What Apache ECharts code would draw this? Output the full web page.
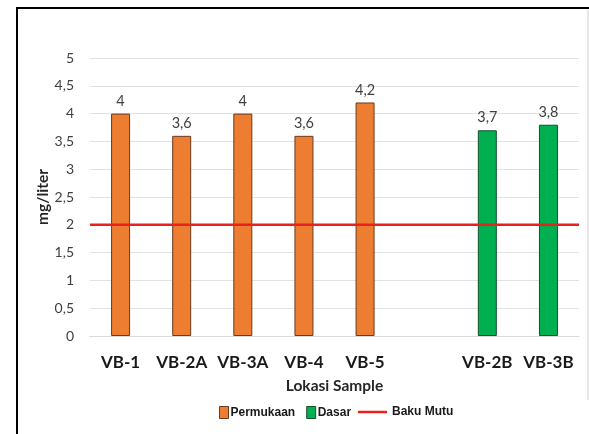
<!DOCTYPE html>
<html>
<head>
<meta charset="utf-8">
<script src="https://cdn.jsdelivr.net/npm/echarts@6/dist/echarts.min.js"></script>
<style>
  html, body { margin: 0; padding: 0; background: #fff; }
  #chart { width: 589px; height: 434px; }
</style>
</head>
<body>
<div id="chart"></div>
<script>
// Sampling locations (blank slot separates surface and bottom samples)
const categories = ['VB-1', 'VB-2A', 'VB-3A', 'VB-4', 'VB-5', '', 'VB-2B', 'VB-3B'];
// Surface samples (mg/liter)
const permukaan = [4, 3.6, 4, 3.6, 4.2, null, null, null];
// Bottom samples (mg/liter)
const dasar = [null, null, null, null, null, null, 3.7, 3.8];
// Quality standard threshold
const bakuMutu = [2, 2];
const yTicks = { min: 0, max: 5, interval: 0.5 };

const comma = v => String(v).replace('.', ',');
const labelFont = 'Lato, "Open Sans", sans-serif';
const legendFont = '"Liberation Sans Narrow", "Liberation Sans", sans-serif';

const chart = echarts.init(document.getElementById('chart'), null, { renderer: 'canvas' });

chart.setOption({
  animation: false,
  backgroundColor: '#ffffff',
  graphic: [
    { type: 'rect', shape: { x: 17, y: 8, width: 700, height: 600 },
      style: { fill: 'none', stroke: '#000', lineWidth: 2 }, z: 100 },
    { type: 'line', shape: { x1: 588, y1: 10, x2: 588, y2: 400 },
      style: { stroke: '#d0d0d0', lineWidth: 1 }, z: 100 }
  ],
  grid: { left: 90, right: 10, top: 58, bottom: 98 },
  legend: [
    {
      data: [
        { name: 'Permukaan', itemStyle: { borderColor: '#6b3a1c', borderWidth: 1 } },
        { name: 'Dasar', itemStyle: { borderColor: '#14502c', borderWidth: 1 } }
      ],
      left: 219, top: 406, padding: 0,
      icon: 'rect',
      itemWidth: 9, itemHeight: 12, itemGap: 11,
      textStyle: { fontFamily: legendFont, fontWeight: 'bold', fontSize: 12, color: '#1a1a1a', padding: [0, 0, 0, -3] }
    },
    {
      data: [{ name: 'Baku Mutu', icon: 'rect' }],
      left: 358, top: 406, padding: 0,
      itemWidth: 29, itemHeight: 2.5,
      textStyle: { fontFamily: legendFont, fontWeight: 'bold', fontSize: 12, color: '#1a1a1a' }
    }
  ],
  xAxis: [
    {
      type: 'category',
      data: categories,
      name: 'Lokasi Sample',
      nameLocation: 'middle',
      nameGap: 42,
      nameMoveOverlap: false,
      nameTextStyle: { fontFamily: labelFont, fontWeight: 'bold', fontSize: 15.5, color: '#262626' },
      axisLine: { lineStyle: { color: '#d9d9d9' } },
      axisTick: { show: false },
      axisLabel: { interval: 0, fontFamily: labelFont, fontWeight: 'bold', fontSize: 17, color: '#1a1a1a', margin: 18 }
    },
    {
      type: 'category',
      data: ['', ''],
      boundaryGap: false,
      show: false
    }
  ],
  yAxis: {
    type: 'value',
    min: yTicks.min, max: yTicks.max, interval: yTicks.interval,
    name: 'mg/liter',
    nameLocation: 'middle',
    nameGap: 39,
    nameMoveOverlap: false,
    nameTextStyle: { fontFamily: labelFont, fontWeight: 'bold', fontSize: 15.5, color: '#262626' },
    axisLine: { show: false },
    axisTick: { show: false },
    splitLine: { lineStyle: { color: '#e2e2e2' } },
    axisLabel: { fontFamily: labelFont, fontSize: 14, color: '#404040', margin: 16, formatter: comma }
  },
  series: [
    {
      name: 'Permukaan', type: 'bar', stack: 'loc', barWidth: 19,
      data: permukaan,
      itemStyle: { color: '#ED7D31', borderColor: '#6b3a1c', borderWidth: 1 },
      label: { show: true, position: 'top', distance: 5, fontFamily: labelFont, fontSize: 14.5, color: '#404040',
               formatter: p => comma(p.value) }
    },
    {
      name: 'Dasar', type: 'bar', stack: 'loc', barWidth: 19,
      data: dasar,
      itemStyle: { color: '#00B050', borderColor: '#14502c', borderWidth: 1 },
      label: { show: true, position: 'top', distance: 5, fontFamily: labelFont, fontSize: 14.5, color: '#404040',
               formatter: p => comma(p.value) }
    },
    {
      name: 'Baku Mutu', type: 'line', xAxisIndex: 1,
      data: bakuMutu, symbol: 'none', z: 5,
      lineStyle: { color: '#E8201E', width: 2.5 },
      itemStyle: { color: '#E8201E' }
    }
  ]
});
</script>
</body>
</html>
